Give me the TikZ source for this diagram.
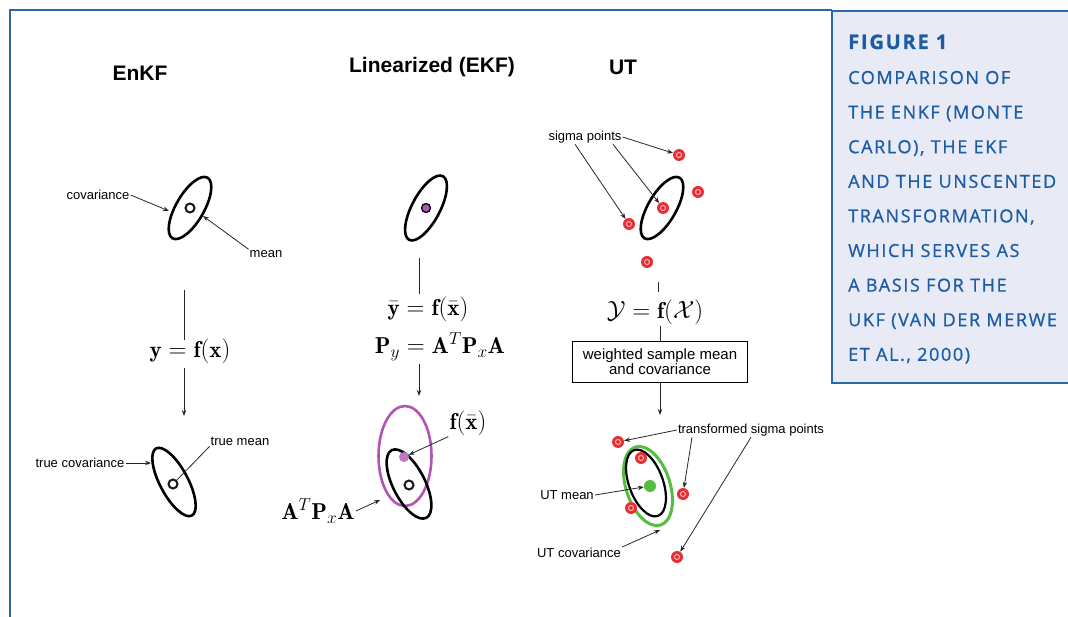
\documentclass[tikz,border=0pt]{standalone}
\usepackage{amsmath}
\usepackage{amssymb}
\usepackage{fontspec}
\setsansfont{Liberation Sans}
\newfontfamily\capfont[LetterSpace=9,FakeBold=0.8]{Open Sans}
\usetikzlibrary{arrows.meta}
\definecolor{frameblue}{RGB}{42,104,172}
\definecolor{capblue}{RGB}{28,92,164}
\definecolor{capfill}{RGB}{232,235,246}
\definecolor{sigred}{RGB}{232,48,52}
\definecolor{ekfpurple}{RGB}{178,84,182}
\definecolor{utgreen}{RGB}{84,190,64}

\begin{document}
\begin{tikzpicture}[x=1pt,y=-1pt,>={Stealth[length=6pt,width=4.5pt]},
  lbl/.style={font=\sffamily\fontsize{13}{13}\selectfont,inner sep=1pt},
  ttl/.style={font=\sffamily\bfseries\fontsize{21}{21}\selectfont},
  eqn/.style={font=\fontsize{23}{25}\selectfont,inner sep=1pt},
  sigpt/.style={circle,fill=sigred,minimum size=12pt,inner sep=0pt,
    path picture={\draw[red!25,line width=0.9pt] (path picture bounding box.center) circle (2.5pt);
      \fill[sigred!85!black] (path picture bounding box.center) circle (1pt);}},
  meandot/.style={circle,draw=black!90,line width=2pt,fill=white,minimum size=9pt,inner sep=0pt,
    path picture={\fill (path picture bounding box.center) circle (1.4pt);}},
  cov/.style={line width=2.6pt},
  lead/.style={->,line width=0.8pt,black!85},
  stem/.style={line width=0.8pt,black!85},
  capline/.style={anchor=base west,text=capblue,inner sep=0pt,font=\capfont\fontsize{18}{18}\selectfont}]
  \useasboundingbox (0,0) rectangle (1068,617);
  \draw[frameblue,line width=1.5pt] (10,617) -- (10,10) -- (832,10);
  \draw[frameblue,line width=1.5pt,fill=capfill] (832,11) rectangle (1090,383);

  \node[ttl] (tEnKF) at (140,73) {EnKF};
  \node[ttl] (tEKF) at (432,67) {Linearized (EKF)};
  \node[ttl] (tUT) at (623,67) {UT};

  \draw[cov,rotate around={60:(190,208)}] (190,208) ellipse [x radius=35,y radius=14];
  \node[meandot] (mA) at (190,208) {};
  \node[lbl] (lcovA) at (98,195) {covariance};
  \coordinate (covA) at (169,211);
  \draw[lead] (lcovA.east) -- (covA);
  \node[lbl] (lmeanA) at (266,254) {mean};
  \coordinate (meanA) at (203,216);
  \draw[lead] (lmeanA.north west) -- (meanA);
  \coordinate (vA1) at (184,290);
  \coordinate (vA2) at (184,340);
  \draw[stem] (vA1) -- (vA2);
  \node[eqn] (eqA) at (190,351) {$\mathbf{y}=\mathbf{f}(\mathbf{x})$};
  \coordinate (vA3) at (184,368);
  \coordinate (vA4) at (184,416);
  \draw[lead] (vA3) -- (vA4);
  \draw[cov,rotate around={-62:(174,482)}] (174,482) ellipse [x radius=38,y radius=14];
  \node[meandot] (mA2) at (173,484) {};
  \node[lbl] (ltcov) at (80,463) {true covariance};
  \coordinate (tcovA) at (151,463);
  \draw[lead] (ltcov.east) -- (tcovA);
  \node[lbl] (ltmean) at (240,441) {true mean};
  \draw[stem] (ltmean.south west) -- (mA2);

  \draw[cov,rotate around={62:(426,208)}] (426,208) ellipse [x radius=36,y radius=14];
  \node[circle,draw=black,line width=1.3pt,fill=ekfpurple,minimum size=9pt,inner sep=0pt] (mB) at (426,208) {};
  \coordinate (vB1) at (419,258);
  \coordinate (vB2) at (419,294);
  \draw[stem] (vB1) -- (vB2);
  \node[eqn] (eqB1) at (428,309) {$\bar{\mathbf{y}}=\mathbf{f}(\bar{\mathbf{x}})$};
  \node[eqn] (eqB2) at (440,347) {$\mathbf{P}_y=\mathbf{A}^T\mathbf{P}_x\mathbf{A}$};
  \coordinate (vB3) at (419,364);
  \coordinate (vB4) at (419,396);
  \draw[lead] (vB3) -- (vB4);
  \draw[ekfpurple,line width=2.6pt] (405,456) ellipse [x radius=26.5,y radius=50];
  \draw[cov,rotate around={-63:(409,484)}] (409,484) ellipse [x radius=38,y radius=16];
  \node[circle,fill=ekfpurple!80,minimum size=10pt,inner sep=0pt] (fB) at (404,457) {};
  \node[meandot] (mB2) at (409,485) {};
  \node[eqn] (lfB) at (468,423) {$\mathbf{f}(\bar{\mathbf{x}})$};
  \draw[lead] (lfB.south west) -- (fB);
  \node[eqn] (lAPA) at (318,511) {$\mathbf{A}^T\mathbf{P}_x\mathbf{A}$};
  \coordinate (apaB) at (380,500);
  \draw[lead] (lAPA.east) -- (apaB);

  \draw[cov,rotate around={60:(662,208)}] (662,208) ellipse [x radius=35,y radius=14];
  \node[sigpt] (s1) at (679,155) {};
  \node[sigpt] (s2) at (698,192) {};
  \node[sigpt] (s3) at (663,208) {};
  \node[sigpt] (s4) at (629,224) {};
  \node[sigpt] (s5) at (647,262) {};
  \node[lbl] (lsig) at (585,137) {sigma points};
  \draw[lead] (lsig.east) -- (s1);
  \draw[lead] ([xshift=-10pt]lsig.south) -- (s4);
  \draw[lead] ([xshift=28pt]lsig.south) -- (s3);
  \coordinate (vC1) at (658,282);
  \coordinate (vC2) at (658,292);
  \draw[stem] (vC1) -- (vC2);
  \node[eqn] (eqC) at (655,312) {$\mathcal{Y}=\mathbf{f}(\mathcal{X})$};
  \node[draw,line width=0.8pt,minimum width=175pt,minimum height=41pt,align=center,
    font=\sffamily\fontsize{15}{12}\selectfont] (wbox) at (660,362) {weighted sample mean\\and covariance};
  \draw[stem] (eqC.south -| wbox.north) -- (wbox.north);
  \coordinate (arC) at (660,415);
  \draw[lead] (wbox.south) -- (arC);
  \draw[utgreen,line width=3pt,rotate around={-72:(648,486)}] (648,486) ellipse [x radius=41,y radius=22];
  \draw[line width=2.2pt,rotate around={-70:(646,483)}] (646,483) ellipse [x radius=35,y radius=17];
  \node[sigpt] (t1) at (618,442) {};
  \node[sigpt] (t2) at (641,458) {};
  \node[sigpt] (t3) at (683,494) {};
  \node[sigpt] (t4) at (631,508) {};
  \node[sigpt] (t5) at (677,557) {};
  \node[circle,fill=utgreen,minimum size=12pt,inner sep=0pt] (gC) at (650,486) {};
  \node[lbl] (ltsig) at (751,430) {transformed sigma points};
  \draw[lead] (ltsig.west) -- (t1);
  \draw[lead] ([xshift=-59pt]ltsig.south) -- (t3);
  \draw[lead] (ltsig.south) -- (t5);
  \node[lbl] (lutm) at (567,495) {UT mean};
  \draw[lead] (lutm.east) -- (gC);
  \node[lbl] (lutc) at (579,553) {UT covariance};
  \coordinate (utcov) at (660,530);
  \draw[lead] (lutc.north east) -- (utcov);

  \node[capline,font=\capfont\bfseries\fontsize{20}{20}\selectfont] (cap0) at (848,49) {FIGURE 1};
  \node[capline] (cap1) at (848,84) {COMPARISON OF};
  \node[capline] (cap2) at (848,118.6) {THE ENKF (MONTE};
  \node[capline] (cap3) at (848,153.2) {CARLO), THE EKF};
  \node[capline] (cap4) at (848,187.8) {AND THE UNSCENTED};
  \node[capline] (cap5) at (848,222.4) {TRANSFORMATION,};
  \node[capline] (cap6) at (848,257) {WHICH SERVES AS};
  \node[capline] (cap7) at (848,291.6) {A BASIS FOR THE};
  \node[capline] (cap8) at (848,326.2) {UKF (VAN DER MERWE};
  \node[capline] (cap9) at (848,360.8) {ET AL., 2000)};
\end{tikzpicture}
\end{document}
